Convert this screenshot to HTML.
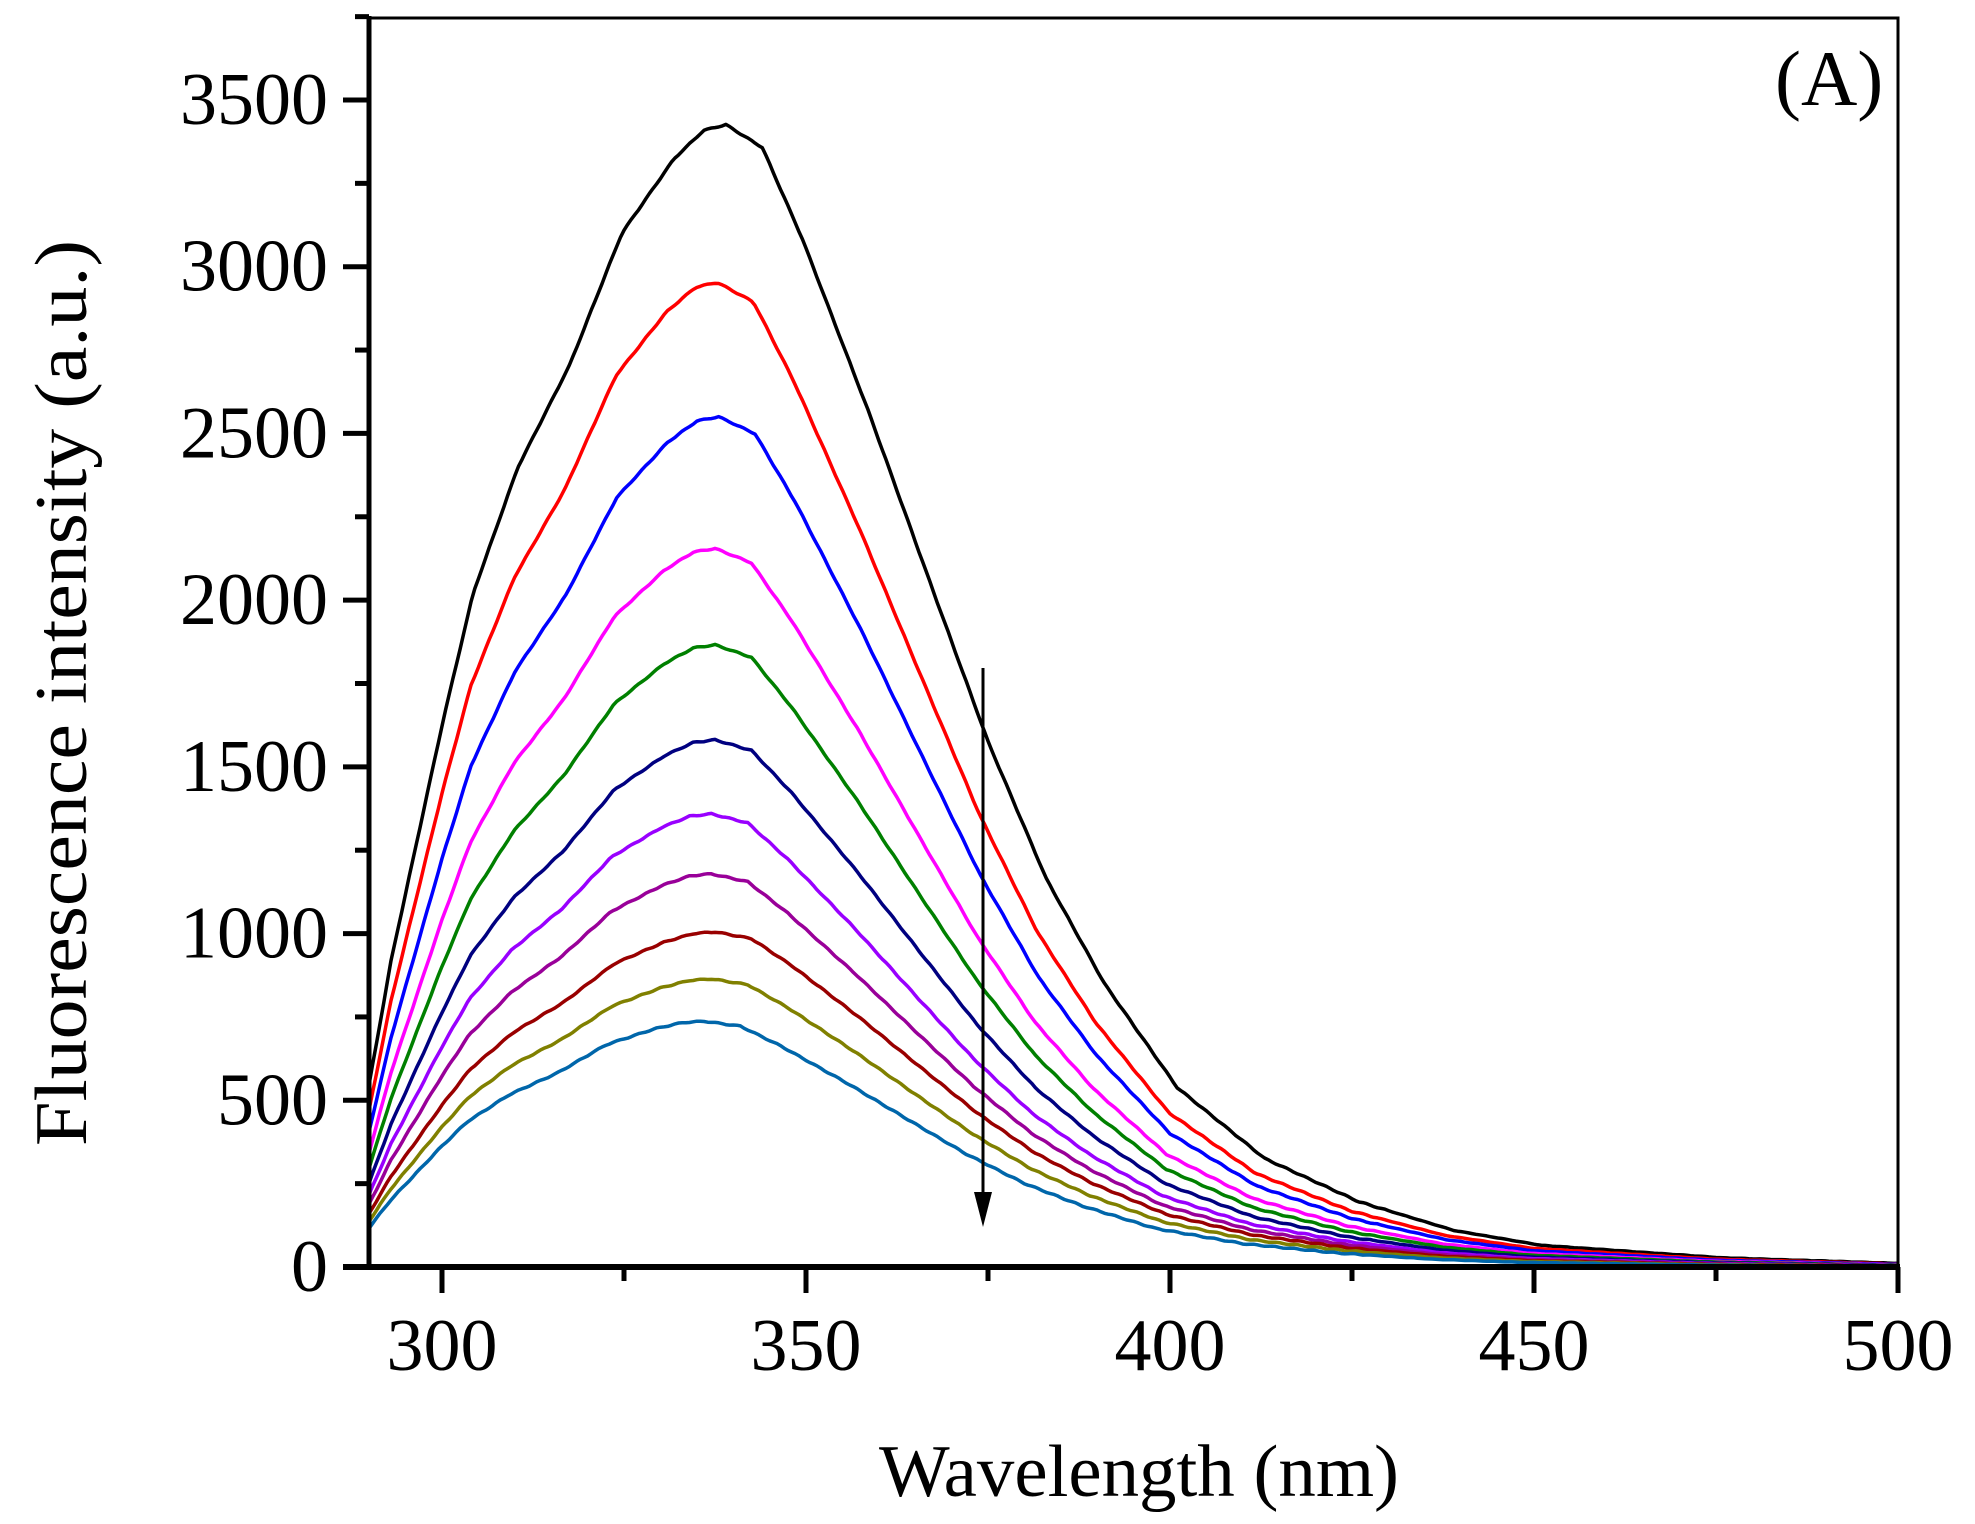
<!DOCTYPE html>
<html><head><meta charset="utf-8"><style>
html,body{margin:0;padding:0;background:#fff;}
svg{display:block;}
text{font-family:"Liberation Serif",serif;fill:#000;}
</style></head><body>
<svg id="s" width="1975" height="1524" viewBox="0 0 1975 1524" xmlns="http://www.w3.org/2000/svg">
<rect width="1975" height="1524" fill="#fff"/>
<g id="curves" fill="none" stroke-width="3.5" stroke-linejoin="round"></g>
<rect x="369" y="18" width="1529" height="1249" fill="none" stroke="#000" stroke-width="3"/>
<line x1="369" y1="16" x2="369" y2="1270" stroke="#000" stroke-width="5"/>
<line x1="343" y1="1267" x2="1900" y2="1267" stroke="#000" stroke-width="6"/>
<g id="ticks" stroke="#000" stroke-width="5"></g>
<g id="labels" font-size="74"></g>
<line x1="983" y1="668" x2="983" y2="1195" stroke="#000" stroke-width="3"/>
<polygon points="974,1192 992,1192 983,1227" fill="#000"/>
<text x="1775" y="105" font-size="78">(A)</text>
<text x="879" y="1496" font-size="74" textLength="520" lengthAdjust="spacingAndGlyphs">Wavelength (nm)</text>
<text transform="translate(86,1146) rotate(-90)" font-size="74" textLength="906" lengthAdjust="spacingAndGlyphs">Fluorescence intensity (a.u.)</text>
</svg>
<script>
var NS="http://www.w3.org/2000/svg";
function X(l){return 442+(l-300)*7.28;}
function Y(v){return 1267-v*0.33343;}
var tk=document.getElementById('ticks'),lb=document.getElementById('labels');
function ln(p,a,b,c,d){var e=document.createElementNS(NS,'line');e.setAttribute('x1',a);e.setAttribute('y1',b);e.setAttribute('x2',c);e.setAttribute('y2',d);p.appendChild(e);}
function tx(p,x,y,s,anchor){var e=document.createElementNS(NS,'text');e.setAttribute('x',x);e.setAttribute('y',y);e.setAttribute('text-anchor',anchor);e.textContent=s;p.appendChild(e);}
for(var v=0;v<=3750;v+=250){var y=Y(v);var maj=v%500==0;ln(tk,maj?343:355,y,369,y);
 if(maj)tx(lb,328,y+24,String(v),'end');}
for(var l=300;l<=500;l+=25){var x=X(l);var maj=l%50==0;ln(tk,x,1267,x,maj?1293:1281);
 if(maj)tx(lb,x,1370,String(l),'middle');}
// left table in absolute wavelength
var L=[[290,.16],[293,.27],[296,.36],[300,.48],[304,.59],[310,.70],[317,.79],[324,.905],[331,.97],[335,.995],[338,1]];
var R=[[0,1],[5,.98],[10.5,.90],[19.7,.747],[28,.6],[36,.46],[44,.34],[52,.248],[62,.157],[74,.095],[87,.057],[100,.032],[112,.019],[137,.008],[162,.003],[220,.001]];
function interp(t,d){if(d<=t[0][0])return t[0][1];for(var i=0;i<t.length-1;i++){if(d>=t[i][0]&&d<=t[i+1][0]){var f=(d-t[i][0])/(t[i+1][0]-t[i][0]);return t[i][1]+f*(t[i+1][1]-t[i][1]);}}return t[t.length-1][1];}
var cs=[["#000000",3426,339],["#ff0000",2953,337.8],["#0000ff",2550,338],["#ff00ff",2155,337.5],["#008000",1866,337.5],["#000080",1581,337.5],["#9900ff",1359,337],["#990099",1179,337],["#990000",1005,337.5],["#808000",864,337],["#0066aa",737,336]];
var g=document.getElementById('curves');
cs.forEach(function(c,k){var d="";for(var l=290;l<=500.01;l+=0.5){var r;
 if(l<c[2]){r=interp(L,290+(l-290)*(338-290)/(c[2]-290));}else r=interp(R,l-c[2]);
 var v=c[1]*r+1.5*Math.sin(l*2.3+k)*(r>0.05?1:0.3);var x=X(l),y=Y(Math.max(v,2));d+=(d?"L":"M")+x.toFixed(1)+","+y.toFixed(1);}
 var p=document.createElementNS(NS,'path');p.setAttribute('d',d);p.setAttribute('stroke',c[0]);g.appendChild(p);});
</script>
</body></html>
